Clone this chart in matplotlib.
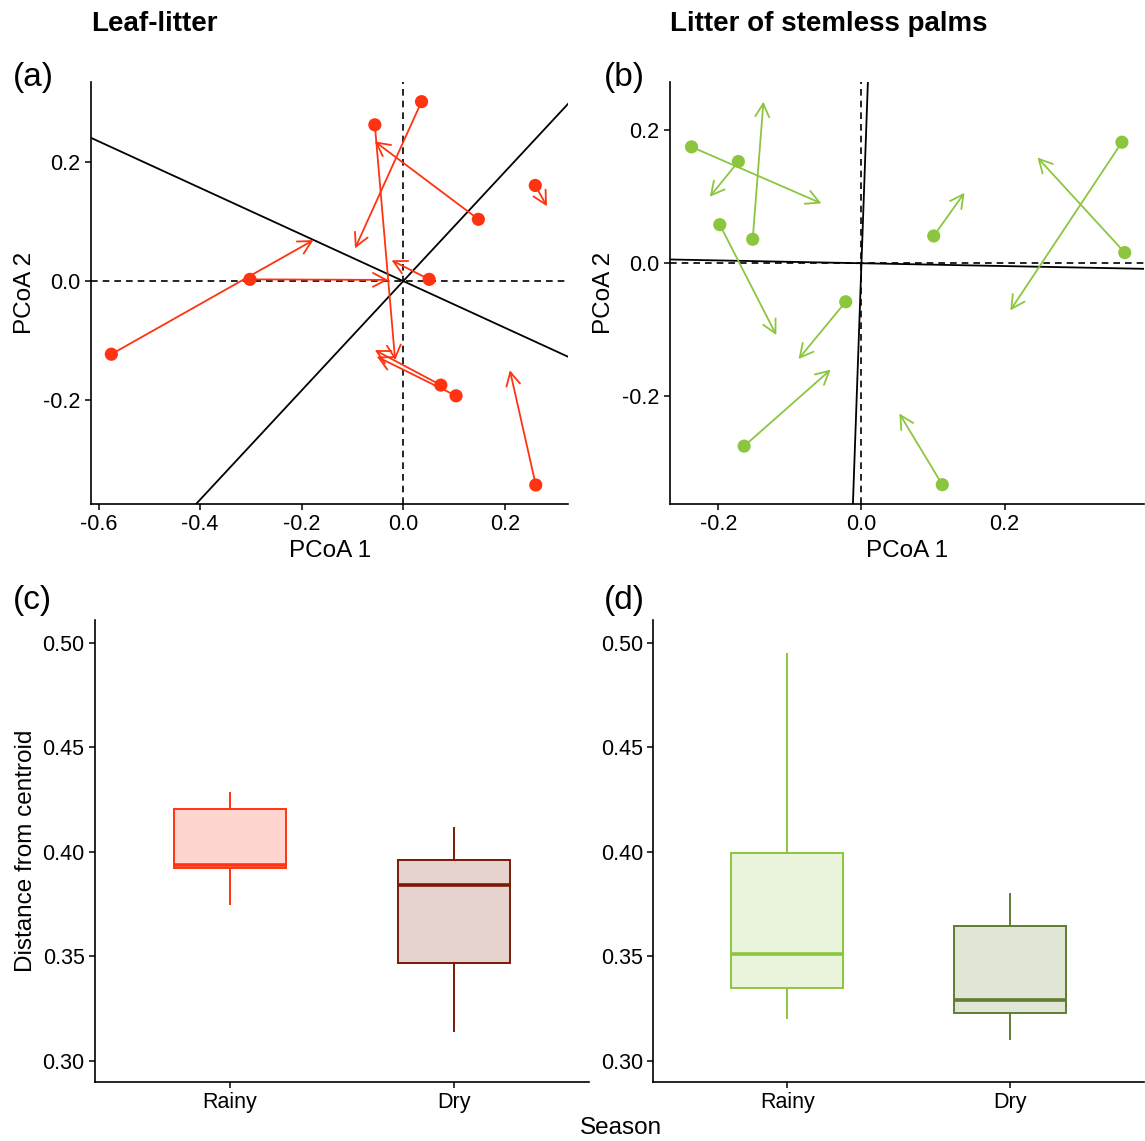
import matplotlib
matplotlib.use("Agg")
import matplotlib.pyplot as plt

plt.rcParams['font.family'] = ['Liberation Sans', 'DejaVu Sans']
plt.rcParams['axes.unicode_minus'] = False

# Leaf-litter PCoA: rainy position (dot) -> dry position (arrow head)
leaf_x0 = [-0.575, -0.302, 0.036, -0.056, 0.148, 0.051, 0.260, 0.074, 0.104, 0.261]
leaf_y0 = [-0.123, 0.003, 0.302, 0.263, 0.104, 0.003, 0.161, -0.175, -0.193, -0.343]
leaf_x1 = [-0.177, -0.030, -0.095, -0.016, -0.056, -0.023, 0.283, -0.056, -0.052, 0.210]
leaf_y1 = [0.069, 0.002, 0.055, -0.133, 0.235, 0.035, 0.126, -0.116, -0.127, -0.150]
leaf_slopes = [-0.392, 0.919]

# Stemless palm litter PCoA
palm_x0 = [-0.2375, -0.172, -0.152, -0.198, -0.022, -0.164, 0.101, 0.364, 0.368, 0.113]
palm_y0 = [0.175, 0.153, 0.036, 0.058, -0.058, -0.275, 0.041, 0.182, 0.016, -0.333]
palm_x1 = [-0.056, -0.212, -0.137, -0.119, -0.088, -0.043, 0.144, 0.208, 0.246, 0.053]
palm_y1 = [0.090, 0.100, 0.243, -0.108, -0.144, -0.160, 0.106, -0.071, 0.159, -0.226]
palm_slopes = [30.3, -0.0212]

# Distance from centroid boxplots: whislo, q1, med, q3, whishi
seasons = ['Rainy', 'Dry']
leaf_box = [[0.3752, 0.3923, 0.3939, 0.4203, 0.428],
            [0.3143, 0.3469, 0.3840, 0.3959, 0.4114]]
palm_box = [[0.3203, 0.3349, 0.3509, 0.3994, 0.4947],
            [0.3102, 0.3231, 0.3290, 0.3644, 0.3800]]

red = '#FF3311'
green = '#8CC63F'
leaf_edges = ['#FF3311', '#7A1A05']
leaf_fills = ['#FFD6CF', '#E6D3D0']
palm_edges = ['#8CC63F', '#607D32']
palm_fills = ['#EAF4DD', '#E0E6D6']

fig = plt.figure(figsize=(11.45, 11.41), dpi=100)
ax_a = fig.add_axes([0.0795, 0.5583, 0.4168, 0.3698])
ax_b = fig.add_axes([0.5852, 0.5583, 0.4140, 0.3701])
ax_c = fig.add_axes([0.0830, 0.0520, 0.4314, 0.4046])
ax_d = fig.add_axes([0.5706, 0.0520, 0.4286, 0.4046])


def style(ax):
    for s in ['top', 'right']:
        ax.spines[s].set_visible(False)
    for s in ['left', 'bottom']:
        ax.spines[s].set_linewidth(1.2)
    ax.tick_params(direction='out', length=4.5, width=1.1, labelsize=15.5,
                   colors='black', pad=3)


def pcoa(ax, x0, y0, x1, y1, slopes, color, xlim, ylim, xticks, yticks):
    ax.axhline(0, color='black', lw=1.2, ls=(0, (4, 3)), zorder=1)
    ax.axvline(0, color='black', lw=1.2, ls=(0, (4, 3)), zorder=1)
    for sl in slopes:
        ax.axline((0, 0), slope=sl, color='black', lw=1.3, zorder=1)
    for a, b, c, d in zip(x0, y0, x1, y1):
        ax.annotate('', xy=(c, d), xytext=(a, b),
                    arrowprops=dict(arrowstyle='->,head_length=0.95,head_width=0.5',
                                    color=color, lw=1.3, shrinkA=0, shrinkB=0),
                    zorder=2)
    ax.scatter(x0, y0, s=90, color=color, edgecolors='none', zorder=3)
    ax.set_xlim(xlim)
    ax.set_ylim(ylim)
    ax.set_xticks(xticks)
    ax.set_yticks(yticks)
    ax.set_xticklabels([f'{t:.1f}' for t in xticks])
    ax.set_yticklabels([f'{t:.1f}' for t in yticks])
    ax.set_xlabel('PCoA 1', fontsize=17.5, labelpad=3)
    ax.set_ylabel('PCoA 2', fontsize=17.5, labelpad=5)
    style(ax)


pcoa(ax_a, leaf_x0, leaf_y0, leaf_x1, leaf_y1, leaf_slopes, red,
     (-0.615, 0.325), (-0.375, 0.335), [-0.6, -0.4, -0.2, 0.0, 0.2], [-0.2, 0.0, 0.2])
pcoa(ax_b, palm_x0, palm_y0, palm_x1, palm_y1, palm_slopes, green,
     (-0.2675, 0.395), (-0.362, 0.273), [-0.2, 0.0, 0.2], [-0.2, 0.0, 0.2])


def boxes(ax, data, edges, fills):
    for i, (st, ec, fc) in enumerate(zip(data, edges, fills)):
        stats = [dict(whislo=st[0], q1=st[1], med=st[2], q3=st[3], whishi=st[4])]
        ax.bxp(stats, positions=[i + 1], widths=0.5, showfliers=False,
               showcaps=False, patch_artist=True,
               boxprops=dict(facecolor=fc, edgecolor=ec, lw=1.4),
               medianprops=dict(color=ec, lw=2.6),
               whiskerprops=dict(color=ec, lw=1.4))
    ax.set_xlim(0.4, 2.6)
    ax.set_ylim(0.29, 0.511)
    ax.set_xticks([1, 2])
    ax.set_xticklabels(seasons)
    yt = [0.30, 0.35, 0.40, 0.45, 0.50]
    ax.set_yticks(yt)
    ax.set_yticklabels([f'{t:.2f}' for t in yt])
    style(ax)


boxes(ax_c, leaf_box, leaf_edges, leaf_fills)
boxes(ax_d, palm_box, palm_edges, palm_fills)
ax_c.set_ylabel('Distance from centroid', fontsize=17.5, labelpad=4)

fig.text(0.0795, 0.979, 'Leaf-litter', fontsize=20, fontweight='bold', va='center')
fig.text(0.5852, 0.979, 'Litter of stemless palms', fontsize=20, fontweight='bold', va='center')
fig.text(0.011, 0.932, '(a)', fontsize=24, va='center')
fig.text(0.527, 0.932, '(b)', fontsize=24, va='center')
fig.text(0.011, 0.474, '(c)', fontsize=24, va='center')
fig.text(0.527, 0.474, '(d)', fontsize=24, va='center')
fig.text(0.542, 0.011, 'Season', fontsize=17.5, ha='center', va='center')

fig.savefig('out.png', dpi=100)
